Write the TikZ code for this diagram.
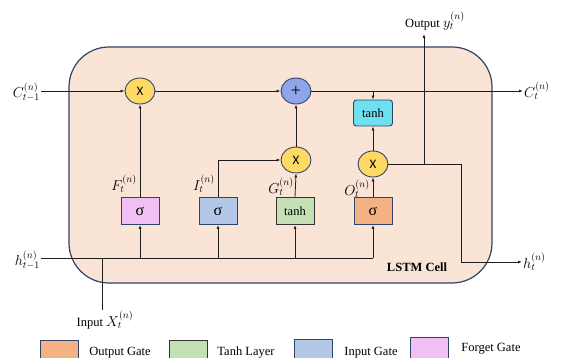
\documentclass[tikz,border=0pt]{standalone}
\usepackage{fontspec}
\setmainfont{Liberation Serif}
\newfontfamily\xfont{Carlito}
\usetikzlibrary{arrows.meta,shapes.geometric}
\definecolor{cellfill}{RGB}{250,228,214}
\definecolor{navy}{RGB}{47,68,104}
\definecolor{opyellow}{RGB}{255,217,102}
\definecolor{plusblue}{RGB}{142,165,232}
\definecolor{tcyan}{RGB}{110,224,240}
\definecolor{fpink}{RGB}{240,192,245}
\definecolor{iblue}{RGB}{180,199,231}
\definecolor{ggreen}{RGB}{197,224,180}
\definecolor{oorange}{RGB}{244,177,131}
\definecolor{lineclr}{RGB}{30,30,30}
\begin{document}
\begin{tikzpicture}[x=1pt,y=-1pt,
  op/.style={ellipse, draw=navy, line width=0.9pt, fill=opyellow, minimum width=30pt, minimum height=26pt, inner sep=0pt, font=\xfont\fontsize{13}{13}\selectfont},
  gatebox/.style={rectangle, draw=navy, line width=0.9pt, minimum width=38pt, minimum height=27pt, inner sep=0pt, font=\fontsize{16}{16}\selectfont},
  legbox/.style={rectangle, draw=navy, line width=0.9pt, minimum width=38pt, minimum height=26pt, inner sep=0pt},
  arr/.style={-{Latex[length=4pt,width=3pt]}, line width=0.8pt, draw=lineclr},
  ln/.style={line width=0.8pt, draw=lineclr},
  lbl/.style={font=\fontsize{14}{16}\selectfont, inner sep=1pt},
  txt/.style={font=\fontsize{12.5}{14}\selectfont, inner sep=1pt}
]
\clip (0,0) rectangle (565,358);
\fill[white] (0,0) rectangle (565,358);

% cell
\node[draw=navy, line width=1.2pt, fill=cellfill, rounded corners=40pt,
      minimum width=423pt, minimum height=236pt, inner sep=0pt] (cell) at (280.5,165) {};
\node[font=\bfseries\fontsize{12.5}{14}\selectfont] (celllbl) at (417,267) {LSTM Cell};

% operators
\node[op] (m1) at (140,91) {X};
\node[op, fill=plusblue, font=\fontsize{18}{18}\selectfont] (plus) at (296,91) {+};
\node[op] (m2) at (296,160) {X};
\node[op] (m3) at (373,164) {X};
\node[rectangle, rounded corners=3pt, draw=navy, line width=0.9pt, fill=tcyan,
      minimum width=39pt, minimum height=26pt, inner sep=0pt, font=\fontsize{12.5}{13}\selectfont] (tanhc) at (373,113) {tanh};

% gates
\node[gatebox, fill=fpink] (f) at (140,211) {σ};
\node[gatebox, fill=iblue] (i) at (218,211) {σ};
\node[gatebox, fill=ggreen, draw=black!80, font=\fontsize{12.5}{13}\selectfont] (g) at (295,211) {tanh};
\node[gatebox, fill=oorange] (o) at (373,211) {σ};

% gate labels
\node[lbl] (flbl) at (124,184) {$F_t^{(n)}$};
\node[lbl] (ilbl) at (204,184) {$I_t^{(n)}$};
\node[lbl] (glbl) at (281,187) {$G_t^{(n)}$};
\node[lbl] (olbl) at (357,189) {$O_t^{(n)}$};

% outside labels
\node[lbl, anchor=east] (cprev) at (41,92) {$C_{t-1}^{(n)}$};
\node[lbl, anchor=west] (cnext) at (523,91) {$C_t^{(n)}$};
\node[lbl, anchor=east] (hprev) at (41,260) {$h_{t-1}^{(n)}$};
\node[lbl, anchor=west] (hnext) at (522,262) {$h_t^{(n)}$};
\node[txt] (ylab) at (435,21) {Output \fontsize{14}{16}\selectfont$y_t^{(n)}$};
\node[txt] (xin) at (105,320) {Input \fontsize{14}{16}\selectfont$X_t^{(n)}$};

% cell state line
\draw[arr] (cprev.east |- m1) -- (m1.west);
\draw[arr] (m1.east) -- (plus.west);
\draw[arr] (plus.east) -- (cnext.west |- plus);
\draw[arr] (tanhc.north |- plus) -- (tanhc.north);

% hidden line
\coordinate (hend) at (373,258);
\draw[ln] (hprev.east |- hend) -- (hend);
\draw[arr] (f |- hend) -- (f.south);
\draw[arr] (i |- hend) -- (i.south);
\draw[arr] (g |- hend) -- (g.south);
\draw[arr] (o |- hend) -- (o.south);
\coordinate (xj) at (102,258);
\draw[ln] (xj) -- (xj |- xin.north);

% gate to operators
\draw[arr] (f.north) -- (m1.south);
\draw[arr] (i.north) |- (m2.west);
\draw[arr] (g.north) -- (m2.south);
\draw[arr] (m2.north) -- (plus.south);
\draw[arr] (o.north) -- (m3.south);
\draw[arr] (m3.north) -- (tanhc.south);

% output
\coordinate (hc) at (461,164);
\coordinate (oj) at (424,164);
\draw[ln] (m3.east) -- (hc);
\draw[arr] (hc) |- (hnext.west |- 0,262);
\draw[arr] (oj) -- (oj |- 0,34);

% legend
\node[legbox, fill=oorange] (lo) at (59,353) {};
\node[txt] (lotxt) at (120,353) {Output Gate};
\node[legbox, fill=ggreen, draw=black!80] (lg) at (188,353) {};
\node[txt] (lgtxt) at (246,353) {Tanh Layer};
\node[legbox, fill=iblue] (li) at (313,352) {};
\node[txt] (litxt) at (371,353) {Input Gate};
\node[legbox, fill=fpink] (lf) at (429,350) {};
\node[txt] (lftxt) at (491,349) {Forget Gate};
\end{tikzpicture}
\end{document}
